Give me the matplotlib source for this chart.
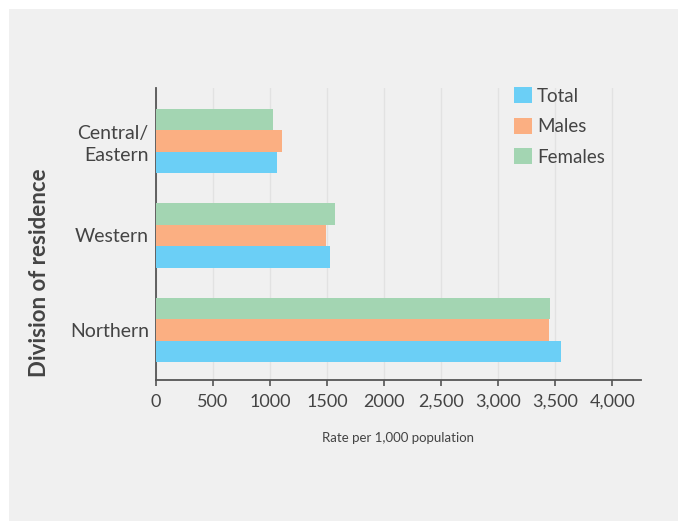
import matplotlib.pyplot as plt
from matplotlib.patches import Rectangle

divisions = ["Northern", "Western", "Central/\nEastern"]
total = [3550, 1530, 1060]
males = [3440, 1490, 1110]
females = [3450, 1570, 1030]

series_names = ["Total", "Males", "Females"]
colors = ["#6bcff6", "#fbaf82", "#a3d5b2"]

x_ticks = [0, 500, 1000, 1500, 2000, 2500, 3000, 3500, 4000]
x_tick_labels = ["0", "500", "1000", "1500", "2000", "2,500", "3,000", "3,500", "4,000"]

plt.rcParams["font.family"] = ["Lato", "DejaVu Sans"]
text_color = "#444444"

fig = plt.figure(figsize=(6.78, 5.21), dpi=100)
fig.patch.set_facecolor("white")
fig.patches.append(Rectangle((9 / 678, 0), 1 - 9 / 678, 1 - 9 / 521,
                             transform=fig.transFigure, facecolor="#f0f0f0",
                             edgecolor="none", zorder=-10))

ax = fig.add_axes([155.7 / 678, 1 - 380 / 521, (641 - 155.7) / 678, (380 - 88) / 521])
ax.set_facecolor("none")

h = 0.228
pos = list(range(len(divisions)))
for vals, name, color, off in zip([total, males, females], series_names, colors, [-h, 0, h]):
    ax.barh([p + off for p in pos], vals, height=h, color=color, label=name, zorder=3)

ax.set_xlim(0, 4250)
ax.set_ylim(-0.53, 2.56)
ax.set_xticks(x_ticks)
ax.set_xticklabels(x_tick_labels)
ax.set_yticks(pos)
ax.set_yticklabels(divisions, fontsize=14, color=text_color, ha="right", linespacing=1.35)

ax.tick_params(axis="x", length=4, width=1.2, color="#555555", labelsize=13,
               labelcolor=text_color, pad=6)
ax.tick_params(axis="y", length=0, pad=5)

ax.xaxis.grid(True, color="#e2e2e2", linewidth=1, zorder=0)
ax.set_axisbelow(True)

for side in ["top", "right"]:
    ax.spines[side].set_visible(False)
for side in ["left", "bottom"]:
    ax.spines[side].set_color("#555555")
    ax.spines[side].set_linewidth(1.3)

ax.set_xlabel("Rate per 1,000 population", fontsize=9.5, color=text_color, labelpad=16)
fig.text(40 / 678, 1 - 273 / 521, "Division of residence", rotation=90, fontsize=16,
         fontweight="bold", color=text_color, ha="center", va="center")

handles, labels = ax.get_legend_handles_labels()
leg = ax.legend(handles, labels, loc="upper left",
                bbox_to_anchor=(514 / 678, 1 - 87 / 521), bbox_transform=fig.transFigure,
                frameon=False, fontsize=13.5, handlelength=0.96, handleheight=0.96,
                handletextpad=0.27, labelspacing=0.69, borderpad=0, borderaxespad=0)
for t in leg.get_texts():
    t.set_color(text_color)

fig.savefig("out.png", dpi=100)
